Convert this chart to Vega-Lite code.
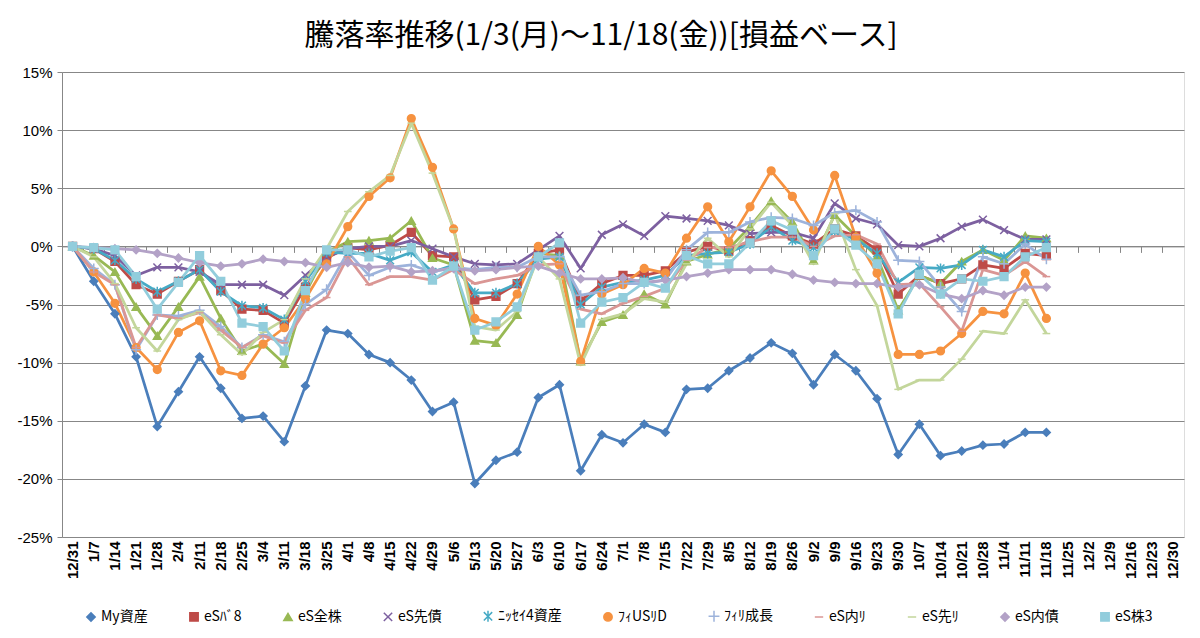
{
  "$schema": "https://vega.github.io/schema/vega-lite/v6.json",
  "width": 1122,
  "height": 465,
  "autosize": "none",
  "padding": {"left": 62, "top": 72, "right": 16, "bottom": 101},
  "background": "white",
  "title": {
    "text": "騰落率推移(1/3(月)～11/18(金))[損益ベース]",
    "font": "Noto Sans CJK JP", "fontSize": 30, "fontWeight": "normal", "color": "#000000",
    "anchor": "middle", "frame": "group", "offset": 14, "dx": -22
  },
  "data": {"values": [
    {"d":"12/31","s":"My資産","v":0},{"d":"1/7","s":"My資産","v":-3.0},{"d":"1/14","s":"My資産","v":-5.8},{"d":"1/21","s":"My資産","v":-9.5},{"d":"1/28","s":"My資産","v":-15.5},{"d":"2/4","s":"My資産","v":-12.5},{"d":"2/11","s":"My資産","v":-9.5},{"d":"2/18","s":"My資産","v":-12.2},{"d":"2/25","s":"My資産","v":-14.8},{"d":"3/4","s":"My資産","v":-14.6},{"d":"3/11","s":"My資産","v":-16.8},{"d":"3/18","s":"My資産","v":-12.0},{"d":"3/25","s":"My資産","v":-7.2},{"d":"4/1","s":"My資産","v":-7.5},{"d":"4/8","s":"My資産","v":-9.3},{"d":"4/15","s":"My資産","v":-10.0},{"d":"4/22","s":"My資産","v":-11.5},{"d":"4/29","s":"My資産","v":-14.2},{"d":"5/6","s":"My資産","v":-13.4},{"d":"5/13","s":"My資産","v":-20.4},{"d":"5/20","s":"My資産","v":-18.4},{"d":"5/27","s":"My資産","v":-17.7},{"d":"6/3","s":"My資産","v":-13.0},{"d":"6/10","s":"My資産","v":-11.9},{"d":"6/17","s":"My資産","v":-19.3},{"d":"6/24","s":"My資産","v":-16.2},{"d":"7/1","s":"My資産","v":-16.9},{"d":"7/8","s":"My資産","v":-15.3},{"d":"7/15","s":"My資産","v":-16.0},{"d":"7/22","s":"My資産","v":-12.3},{"d":"7/29","s":"My資産","v":-12.2},{"d":"8/5","s":"My資産","v":-10.7},{"d":"8/12","s":"My資産","v":-9.6},{"d":"8/19","s":"My資産","v":-8.3},{"d":"8/26","s":"My資産","v":-9.2},{"d":"9/2","s":"My資産","v":-11.9},{"d":"9/9","s":"My資産","v":-9.3},{"d":"9/16","s":"My資産","v":-10.7},{"d":"9/23","s":"My資産","v":-13.1},{"d":"9/30","s":"My資産","v":-17.9},{"d":"10/7","s":"My資産","v":-15.3},{"d":"10/14","s":"My資産","v":-18.0},{"d":"10/21","s":"My資産","v":-17.6},{"d":"10/28","s":"My資産","v":-17.1},{"d":"11/4","s":"My資産","v":-17.0},{"d":"11/11","s":"My資産","v":-16.0},{"d":"11/18","s":"My資産","v":-16.0},
    {"d":"12/31","s":"eSﾊﾞ8","v":0},{"d":"1/7","s":"eSﾊﾞ8","v":-0.2},{"d":"1/14","s":"eSﾊﾞ8","v":-1.3},{"d":"1/21","s":"eSﾊﾞ8","v":-3.3},{"d":"1/28","s":"eSﾊﾞ8","v":-4.1},{"d":"2/4","s":"eSﾊﾞ8","v":-3.0},{"d":"2/11","s":"eSﾊﾞ8","v":-2.0},{"d":"2/18","s":"eSﾊﾞ8","v":-3.8},{"d":"2/25","s":"eSﾊﾞ8","v":-5.4},{"d":"3/4","s":"eSﾊﾞ8","v":-5.5},{"d":"3/11","s":"eSﾊﾞ8","v":-6.6},{"d":"3/18","s":"eSﾊﾞ8","v":-3.5},{"d":"3/25","s":"eSﾊﾞ8","v":-1.0},{"d":"4/1","s":"eSﾊﾞ8","v":-0.1},{"d":"4/8","s":"eSﾊﾞ8","v":-0.3},{"d":"4/15","s":"eSﾊﾞ8","v":0.1},{"d":"4/22","s":"eSﾊﾞ8","v":1.2},{"d":"4/29","s":"eSﾊﾞ8","v":-0.8},{"d":"5/6","s":"eSﾊﾞ8","v":-0.9},{"d":"5/13","s":"eSﾊﾞ8","v":-4.6},{"d":"5/20","s":"eSﾊﾞ8","v":-4.3},{"d":"5/27","s":"eSﾊﾞ8","v":-3.2},{"d":"6/3","s":"eSﾊﾞ8","v":-0.6},{"d":"6/10","s":"eSﾊﾞ8","v":-0.3},{"d":"6/17","s":"eSﾊﾞ8","v":-4.7},{"d":"6/24","s":"eSﾊﾞ8","v":-3.2},{"d":"7/1","s":"eSﾊﾞ8","v":-2.5},{"d":"7/8","s":"eSﾊﾞ8","v":-2.5},{"d":"7/15","s":"eSﾊﾞ8","v":-2.1},{"d":"7/22","s":"eSﾊﾞ8","v":-0.5},{"d":"7/29","s":"eSﾊﾞ8","v":0.0},{"d":"8/5","s":"eSﾊﾞ8","v":-0.4},{"d":"8/12","s":"eSﾊﾞ8","v":0.5},{"d":"8/19","s":"eSﾊﾞ8","v":1.8},{"d":"8/26","s":"eSﾊﾞ8","v":0.9},{"d":"9/2","s":"eSﾊﾞ8","v":0.2},{"d":"9/9","s":"eSﾊﾞ8","v":1.5},{"d":"9/16","s":"eSﾊﾞ8","v":0.9},{"d":"9/23","s":"eSﾊﾞ8","v":-0.3},{"d":"9/30","s":"eSﾊﾞ8","v":-4.1},{"d":"10/7","s":"eSﾊﾞ8","v":-2.5},{"d":"10/14","s":"eSﾊﾞ8","v":-3.2},{"d":"10/21","s":"eSﾊﾞ8","v":-2.8},{"d":"10/28","s":"eSﾊﾞ8","v":-1.6},{"d":"11/4","s":"eSﾊﾞ8","v":-1.9},{"d":"11/11","s":"eSﾊﾞ8","v":-0.6},{"d":"11/18","s":"eSﾊﾞ8","v":-0.8},
    {"d":"12/31","s":"eS全株","v":0},{"d":"1/7","s":"eS全株","v":-0.8},{"d":"1/14","s":"eS全株","v":-2.2},{"d":"1/21","s":"eS全株","v":-5.2},{"d":"1/28","s":"eS全株","v":-7.7},{"d":"2/4","s":"eS全株","v":-5.2},{"d":"2/11","s":"eS全株","v":-2.6},{"d":"2/18","s":"eS全株","v":-6.2},{"d":"2/25","s":"eS全株","v":-9.0},{"d":"3/4","s":"eS全株","v":-8.4},{"d":"3/11","s":"eS全株","v":-10.1},{"d":"3/18","s":"eS全株","v":-4.0},{"d":"3/25","s":"eS全株","v":-0.5},{"d":"4/1","s":"eS全株","v":0.4},{"d":"4/8","s":"eS全株","v":0.5},{"d":"4/15","s":"eS全株","v":0.7},{"d":"4/22","s":"eS全株","v":2.2},{"d":"4/29","s":"eS全株","v":-1.0},{"d":"5/6","s":"eS全株","v":-1.6},{"d":"5/13","s":"eS全株","v":-8.1},{"d":"5/20","s":"eS全株","v":-8.3},{"d":"5/27","s":"eS全株","v":-5.9},{"d":"6/3","s":"eS全株","v":-0.6},{"d":"6/10","s":"eS全株","v":-0.8},{"d":"6/17","s":"eS全株","v":-9.9},{"d":"6/24","s":"eS全株","v":-6.5},{"d":"7/1","s":"eS全株","v":-5.9},{"d":"7/8","s":"eS全株","v":-4.1},{"d":"7/15","s":"eS全株","v":-5.0},{"d":"7/22","s":"eS全株","v":-1.3},{"d":"7/29","s":"eS全株","v":-0.7},{"d":"8/5","s":"eS全株","v":-0.2},{"d":"8/12","s":"eS全株","v":1.7},{"d":"8/19","s":"eS全株","v":3.9},{"d":"8/26","s":"eS全株","v":2.1},{"d":"9/2","s":"eS全株","v":-1.2},{"d":"9/9","s":"eS全株","v":2.7},{"d":"9/16","s":"eS全株","v":0.9},{"d":"9/23","s":"eS全株","v":-0.9},{"d":"9/30","s":"eS全株","v":-5.5},{"d":"10/7","s":"eS全株","v":-2.5},{"d":"10/14","s":"eS全株","v":-3.2},{"d":"10/21","s":"eS全株","v":-1.3},{"d":"10/28","s":"eS全株","v":-0.3},{"d":"11/4","s":"eS全株","v":-1.2},{"d":"11/11","s":"eS全株","v":0.9},{"d":"11/18","s":"eS全株","v":0.7},
    {"d":"12/31","s":"eS先債","v":0},{"d":"1/7","s":"eS先債","v":-0.2},{"d":"1/14","s":"eS先債","v":-0.8},{"d":"1/21","s":"eS先債","v":-2.5},{"d":"1/28","s":"eS先債","v":-1.8},{"d":"2/4","s":"eS先債","v":-1.8},{"d":"2/11","s":"eS先債","v":-2.2},{"d":"2/18","s":"eS先債","v":-3.3},{"d":"2/25","s":"eS先債","v":-3.3},{"d":"3/4","s":"eS先債","v":-3.3},{"d":"3/11","s":"eS先債","v":-4.2},{"d":"3/18","s":"eS先債","v":-2.5},{"d":"3/25","s":"eS先債","v":-0.9},{"d":"4/1","s":"eS先債","v":-0.2},{"d":"4/8","s":"eS先債","v":0.0},{"d":"4/15","s":"eS先債","v":0.0},{"d":"4/22","s":"eS先債","v":0.5},{"d":"4/29","s":"eS先債","v":-0.2},{"d":"5/6","s":"eS先債","v":-0.9},{"d":"5/13","s":"eS先債","v":-1.5},{"d":"5/20","s":"eS先債","v":-1.6},{"d":"5/27","s":"eS先債","v":-1.5},{"d":"6/3","s":"eS先債","v":-0.3},{"d":"6/10","s":"eS先債","v":0.9},{"d":"6/17","s":"eS先債","v":-1.9},{"d":"6/24","s":"eS先債","v":1.0},{"d":"7/1","s":"eS先債","v":1.9},{"d":"7/8","s":"eS先債","v":0.9},{"d":"7/15","s":"eS先債","v":2.6},{"d":"7/22","s":"eS先債","v":2.4},{"d":"7/29","s":"eS先債","v":2.2},{"d":"8/5","s":"eS先債","v":1.8},{"d":"8/12","s":"eS先債","v":1.1},{"d":"8/19","s":"eS先債","v":1.2},{"d":"8/26","s":"eS先債","v":1.2},{"d":"9/2","s":"eS先債","v":0.7},{"d":"9/9","s":"eS先債","v":3.7},{"d":"9/16","s":"eS先債","v":2.4},{"d":"9/23","s":"eS先債","v":1.9},{"d":"9/30","s":"eS先債","v":0.1},{"d":"10/7","s":"eS先債","v":0.0},{"d":"10/14","s":"eS先債","v":0.7},{"d":"10/21","s":"eS先債","v":1.7},{"d":"10/28","s":"eS先債","v":2.3},{"d":"11/4","s":"eS先債","v":1.4},{"d":"11/11","s":"eS先債","v":0.6},{"d":"11/18","s":"eS先債","v":0.6},
    {"d":"12/31","s":"ﾆｯｾｲ4資産","v":0},{"d":"1/7","s":"ﾆｯｾｲ4資産","v":-0.2},{"d":"1/14","s":"ﾆｯｾｲ4資産","v":-1.2},{"d":"1/21","s":"ﾆｯｾｲ4資産","v":-2.8},{"d":"1/28","s":"ﾆｯｾｲ4資産","v":-3.9},{"d":"2/4","s":"ﾆｯｾｲ4資産","v":-3.0},{"d":"2/11","s":"ﾆｯｾｲ4資産","v":-2.0},{"d":"2/18","s":"ﾆｯｾｲ4資産","v":-3.9},{"d":"2/25","s":"ﾆｯｾｲ4資産","v":-5.1},{"d":"3/4","s":"ﾆｯｾｲ4資産","v":-5.3},{"d":"3/11","s":"ﾆｯｾｲ4資産","v":-6.3},{"d":"3/18","s":"ﾆｯｾｲ4資産","v":-3.0},{"d":"3/25","s":"ﾆｯｾｲ4資産","v":-0.5},{"d":"4/1","s":"ﾆｯｾｲ4資産","v":-0.6},{"d":"4/8","s":"ﾆｯｾｲ4資産","v":-0.6},{"d":"4/15","s":"ﾆｯｾｲ4資産","v":-1.2},{"d":"4/22","s":"ﾆｯｾｲ4資産","v":-0.5},{"d":"4/29","s":"ﾆｯｾｲ4資産","v":-2.2},{"d":"5/6","s":"ﾆｯｾｲ4資産","v":-1.6},{"d":"5/13","s":"ﾆｯｾｲ4資産","v":-4.0},{"d":"5/20","s":"ﾆｯｾｲ4資産","v":-4.0},{"d":"5/27","s":"ﾆｯｾｲ4資産","v":-3.2},{"d":"6/3","s":"ﾆｯｾｲ4資産","v":-1.1},{"d":"6/10","s":"ﾆｯｾｲ4資産","v":-0.9},{"d":"6/17","s":"ﾆｯｾｲ4資産","v":-5.0},{"d":"6/24","s":"ﾆｯｾｲ4資産","v":-3.5},{"d":"7/1","s":"ﾆｯｾｲ4資産","v":-3.1},{"d":"7/8","s":"ﾆｯｾｲ4資産","v":-2.9},{"d":"7/15","s":"ﾆｯｾｲ4資産","v":-2.5},{"d":"7/22","s":"ﾆｯｾｲ4資産","v":-0.8},{"d":"7/29","s":"ﾆｯｾｲ4資産","v":-0.6},{"d":"8/5","s":"ﾆｯｾｲ4資産","v":-0.5},{"d":"8/12","s":"ﾆｯｾｲ4資産","v":0.2},{"d":"8/19","s":"ﾆｯｾｲ4資産","v":1.7},{"d":"8/26","s":"ﾆｯｾｲ4資産","v":0.5},{"d":"9/2","s":"ﾆｯｾｲ4資産","v":-0.1},{"d":"9/9","s":"ﾆｯｾｲ4資産","v":1.3},{"d":"9/16","s":"ﾆｯｾｲ4資産","v":0.6},{"d":"9/23","s":"ﾆｯｾｲ4資産","v":-0.6},{"d":"9/30","s":"ﾆｯｾｲ4資産","v":-3.1},{"d":"10/7","s":"ﾆｯｾｲ4資産","v":-1.8},{"d":"10/14","s":"ﾆｯｾｲ4資産","v":-1.9},{"d":"10/21","s":"ﾆｯｾｲ4資産","v":-1.6},{"d":"10/28","s":"ﾆｯｾｲ4資産","v":-0.3},{"d":"11/4","s":"ﾆｯｾｲ4資産","v":-0.9},{"d":"11/11","s":"ﾆｯｾｲ4資産","v":0.5},{"d":"11/18","s":"ﾆｯｾｲ4資産","v":0.4},
    {"d":"12/31","s":"ﾌｨUSﾘD","v":0},{"d":"1/7","s":"ﾌｨUSﾘD","v":-2.2},{"d":"1/14","s":"ﾌｨUSﾘD","v":-4.9},{"d":"1/21","s":"ﾌｨUSﾘD","v":-8.7},{"d":"1/28","s":"ﾌｨUSﾘD","v":-10.6},{"d":"2/4","s":"ﾌｨUSﾘD","v":-7.4},{"d":"2/11","s":"ﾌｨUSﾘD","v":-6.4},{"d":"2/18","s":"ﾌｨUSﾘD","v":-10.7},{"d":"2/25","s":"ﾌｨUSﾘD","v":-11.1},{"d":"3/4","s":"ﾌｨUSﾘD","v":-8.4},{"d":"3/11","s":"ﾌｨUSﾘD","v":-7.0},{"d":"3/18","s":"ﾌｨUSﾘD","v":-4.5},{"d":"3/25","s":"ﾌｨUSﾘD","v":-1.5},{"d":"4/1","s":"ﾌｨUSﾘD","v":1.7},{"d":"4/8","s":"ﾌｨUSﾘD","v":4.3},{"d":"4/15","s":"ﾌｨUSﾘD","v":5.9},{"d":"4/22","s":"ﾌｨUSﾘD","v":11.0},{"d":"4/29","s":"ﾌｨUSﾘD","v":6.8},{"d":"5/6","s":"ﾌｨUSﾘD","v":1.5},{"d":"5/13","s":"ﾌｨUSﾘD","v":-6.2},{"d":"5/20","s":"ﾌｨUSﾘD","v":-6.8},{"d":"5/27","s":"ﾌｨUSﾘD","v":-4.1},{"d":"6/3","s":"ﾌｨUSﾘD","v":0.0},{"d":"6/10","s":"ﾌｨUSﾘD","v":-1.6},{"d":"6/17","s":"ﾌｨUSﾘD","v":-9.9},{"d":"6/24","s":"ﾌｨUSﾘD","v":-4.1},{"d":"7/1","s":"ﾌｨUSﾘD","v":-3.3},{"d":"7/8","s":"ﾌｨUSﾘD","v":-1.9},{"d":"7/15","s":"ﾌｨUSﾘD","v":-2.3},{"d":"7/22","s":"ﾌｨUSﾘD","v":0.7},{"d":"7/29","s":"ﾌｨUSﾘD","v":3.4},{"d":"8/5","s":"ﾌｨUSﾘD","v":0.4},{"d":"8/12","s":"ﾌｨUSﾘD","v":3.4},{"d":"8/19","s":"ﾌｨUSﾘD","v":6.5},{"d":"8/26","s":"ﾌｨUSﾘD","v":4.3},{"d":"9/2","s":"ﾌｨUSﾘD","v":1.4},{"d":"9/9","s":"ﾌｨUSﾘD","v":6.1},{"d":"9/16","s":"ﾌｨUSﾘD","v":0.8},{"d":"9/23","s":"ﾌｨUSﾘD","v":-2.3},{"d":"9/30","s":"ﾌｨUSﾘD","v":-9.3},{"d":"10/7","s":"ﾌｨUSﾘD","v":-9.3},{"d":"10/14","s":"ﾌｨUSﾘD","v":-9.0},{"d":"10/21","s":"ﾌｨUSﾘD","v":-7.5},{"d":"10/28","s":"ﾌｨUSﾘD","v":-5.6},{"d":"11/4","s":"ﾌｨUSﾘD","v":-5.8},{"d":"11/11","s":"ﾌｨUSﾘD","v":-2.3},{"d":"11/18","s":"ﾌｨUSﾘD","v":-6.2},
    {"d":"12/31","s":"ﾌｨﾘ成長","v":0},{"d":"1/7","s":"ﾌｨﾘ成長","v":-1.9},{"d":"1/14","s":"ﾌｨﾘ成長","v":-3.3},{"d":"1/21","s":"ﾌｨﾘ成長","v":-8.9},{"d":"1/28","s":"ﾌｨﾘ成長","v":-5.9},{"d":"2/4","s":"ﾌｨﾘ成長","v":-6.0},{"d":"2/11","s":"ﾌｨﾘ成長","v":-5.5},{"d":"2/18","s":"ﾌｨﾘ成長","v":-6.9},{"d":"2/25","s":"ﾌｨﾘ成長","v":-8.7},{"d":"3/4","s":"ﾌｨﾘ成長","v":-7.6},{"d":"3/11","s":"ﾌｨﾘ成長","v":-8.2},{"d":"3/18","s":"ﾌｨﾘ成長","v":-5.0},{"d":"3/25","s":"ﾌｨﾘ成長","v":-3.7},{"d":"4/1","s":"ﾌｨﾘ成長","v":-0.5},{"d":"4/8","s":"ﾌｨﾘ成長","v":-2.5},{"d":"4/15","s":"ﾌｨﾘ成長","v":-1.8},{"d":"4/22","s":"ﾌｨﾘ成長","v":-1.6},{"d":"4/29","s":"ﾌｨﾘ成長","v":-2.2},{"d":"5/6","s":"ﾌｨﾘ成長","v":-1.8},{"d":"5/13","s":"ﾌｨﾘ成長","v":-2.0},{"d":"5/20","s":"ﾌｨﾘ成長","v":-1.8},{"d":"5/27","s":"ﾌｨﾘ成長","v":-1.8},{"d":"6/3","s":"ﾌｨﾘ成長","v":-0.9},{"d":"6/10","s":"ﾌｨﾘ成長","v":-0.9},{"d":"6/17","s":"ﾌｨﾘ成長","v":-4.2},{"d":"6/24","s":"ﾌｨﾘ成長","v":-3.9},{"d":"7/1","s":"ﾌｨﾘ成長","v":-3.2},{"d":"7/8","s":"ﾌｨﾘ成長","v":-3.2},{"d":"7/15","s":"ﾌｨﾘ成長","v":-2.9},{"d":"7/22","s":"ﾌｨﾘ成長","v":-0.3},{"d":"7/29","s":"ﾌｨﾘ成長","v":1.2},{"d":"8/5","s":"ﾌｨﾘ成長","v":1.2},{"d":"8/12","s":"ﾌｨﾘ成長","v":2.1},{"d":"8/19","s":"ﾌｨﾘ成長","v":2.5},{"d":"8/26","s":"ﾌｨﾘ成長","v":2.4},{"d":"9/2","s":"ﾌｨﾘ成長","v":1.8},{"d":"9/9","s":"ﾌｨﾘ成長","v":2.9},{"d":"9/16","s":"ﾌｨﾘ成長","v":3.1},{"d":"9/23","s":"ﾌｨﾘ成長","v":2.1},{"d":"9/30","s":"ﾌｨﾘ成長","v":-1.2},{"d":"10/7","s":"ﾌｨﾘ成長","v":-1.3},{"d":"10/14","s":"ﾌｨﾘ成長","v":-3.5},{"d":"10/21","s":"ﾌｨﾘ成長","v":-5.6},{"d":"10/28","s":"ﾌｨﾘ成長","v":-0.9},{"d":"11/4","s":"ﾌｨﾘ成長","v":-1.5},{"d":"11/11","s":"ﾌｨﾘ成長","v":0.2},{"d":"11/18","s":"ﾌｨﾘ成長","v":-1.1},
    {"d":"12/31","s":"eS内ﾘ","v":0},{"d":"1/7","s":"eS内ﾘ","v":-2.2},{"d":"1/14","s":"eS内ﾘ","v":-3.3},{"d":"1/21","s":"eS内ﾘ","v":-8.7},{"d":"1/28","s":"eS内ﾘ","v":-5.9},{"d":"2/4","s":"eS内ﾘ","v":-6.2},{"d":"2/11","s":"eS内ﾘ","v":-5.7},{"d":"2/18","s":"eS内ﾘ","v":-7.2},{"d":"2/25","s":"eS内ﾘ","v":-8.7},{"d":"3/4","s":"eS内ﾘ","v":-7.7},{"d":"3/11","s":"eS内ﾘ","v":-8.3},{"d":"3/18","s":"eS内ﾘ","v":-5.5},{"d":"3/25","s":"eS内ﾘ","v":-4.4},{"d":"4/1","s":"eS内ﾘ","v":-0.9},{"d":"4/8","s":"eS内ﾘ","v":-3.3},{"d":"4/15","s":"eS内ﾘ","v":-2.6},{"d":"4/22","s":"eS内ﾘ","v":-2.6},{"d":"4/29","s":"eS内ﾘ","v":-2.9},{"d":"5/6","s":"eS内ﾘ","v":-2.0},{"d":"5/13","s":"eS内ﾘ","v":-3.2},{"d":"5/20","s":"eS内ﾘ","v":-2.8},{"d":"5/27","s":"eS内ﾘ","v":-2.5},{"d":"6/3","s":"eS内ﾘ","v":-1.6},{"d":"6/10","s":"eS内ﾘ","v":-1.5},{"d":"6/17","s":"eS内ﾘ","v":-5.4},{"d":"6/24","s":"eS内ﾘ","v":-5.8},{"d":"7/1","s":"eS内ﾘ","v":-4.9},{"d":"7/8","s":"eS内ﾘ","v":-4.3},{"d":"7/15","s":"eS内ﾘ","v":-3.6},{"d":"7/22","s":"eS内ﾘ","v":-1.2},{"d":"7/29","s":"eS内ﾘ","v":-0.1},{"d":"8/5","s":"eS内ﾘ","v":-0.1},{"d":"8/12","s":"eS内ﾘ","v":0.4},{"d":"8/19","s":"eS内ﾘ","v":0.8},{"d":"8/26","s":"eS内ﾘ","v":0.8},{"d":"9/2","s":"eS内ﾘ","v":0.0},{"d":"9/9","s":"eS内ﾘ","v":0.9},{"d":"9/16","s":"eS内ﾘ","v":1.0},{"d":"9/23","s":"eS内ﾘ","v":0.2},{"d":"9/30","s":"eS内ﾘ","v":-3.3},{"d":"10/7","s":"eS内ﾘ","v":-3.2},{"d":"10/14","s":"eS内ﾘ","v":-5.2},{"d":"10/21","s":"eS内ﾘ","v":-7.3},{"d":"10/28","s":"eS内ﾘ","v":-2.0},{"d":"11/4","s":"eS内ﾘ","v":-2.5},{"d":"11/11","s":"eS内ﾘ","v":-1.3},{"d":"11/18","s":"eS内ﾘ","v":-2.6},
    {"d":"12/31","s":"eS先ﾘ","v":0},{"d":"1/7","s":"eS先ﾘ","v":-0.9},{"d":"1/14","s":"eS先ﾘ","v":-3.2},{"d":"1/21","s":"eS先ﾘ","v":-7.0},{"d":"1/28","s":"eS先ﾘ","v":-9.0},{"d":"2/4","s":"eS先ﾘ","v":-6.3},{"d":"2/11","s":"eS先ﾘ","v":-5.6},{"d":"2/18","s":"eS先ﾘ","v":-7.6},{"d":"2/25","s":"eS先ﾘ","v":-9.3},{"d":"3/4","s":"eS先ﾘ","v":-7.4},{"d":"3/11","s":"eS先ﾘ","v":-6.3},{"d":"3/18","s":"eS先ﾘ","v":-2.8},{"d":"3/25","s":"eS先ﾘ","v":-0.2},{"d":"4/1","s":"eS先ﾘ","v":3.0},{"d":"4/8","s":"eS先ﾘ","v":4.7},{"d":"4/15","s":"eS先ﾘ","v":6.1},{"d":"4/22","s":"eS先ﾘ","v":10.6},{"d":"4/29","s":"eS先ﾘ","v":6.3},{"d":"5/6","s":"eS先ﾘ","v":1.5},{"d":"5/13","s":"eS先ﾘ","v":-6.9},{"d":"5/20","s":"eS先ﾘ","v":-7.2},{"d":"5/27","s":"eS先ﾘ","v":-5.6},{"d":"6/3","s":"eS先ﾘ","v":-0.9},{"d":"6/10","s":"eS先ﾘ","v":-2.8},{"d":"6/17","s":"eS先ﾘ","v":-10.2},{"d":"6/24","s":"eS先ﾘ","v":-6.3},{"d":"7/1","s":"eS先ﾘ","v":-5.8},{"d":"7/8","s":"eS先ﾘ","v":-4.5},{"d":"7/15","s":"eS先ﾘ","v":-4.8},{"d":"7/22","s":"eS先ﾘ","v":-1.5},{"d":"7/29","s":"eS先ﾘ","v":0.7},{"d":"8/5","s":"eS先ﾘ","v":-0.9},{"d":"8/12","s":"eS先ﾘ","v":1.5},{"d":"8/19","s":"eS先ﾘ","v":3.8},{"d":"8/26","s":"eS先ﾘ","v":1.8},{"d":"9/2","s":"eS先ﾘ","v":-1.5},{"d":"9/9","s":"eS先ﾘ","v":2.8},{"d":"9/16","s":"eS先ﾘ","v":-2.0},{"d":"9/23","s":"eS先ﾘ","v":-5.1},{"d":"9/30","s":"eS先ﾘ","v":-12.3},{"d":"10/7","s":"eS先ﾘ","v":-11.5},{"d":"10/14","s":"eS先ﾘ","v":-11.5},{"d":"10/21","s":"eS先ﾘ","v":-9.7},{"d":"10/28","s":"eS先ﾘ","v":-7.3},{"d":"11/4","s":"eS先ﾘ","v":-7.5},{"d":"11/11","s":"eS先ﾘ","v":-4.6},{"d":"11/18","s":"eS先ﾘ","v":-7.5},
    {"d":"12/31","s":"eS内債","v":0},{"d":"1/7","s":"eS内債","v":-0.1},{"d":"1/14","s":"eS内債","v":-0.2},{"d":"1/21","s":"eS内債","v":-0.3},{"d":"1/28","s":"eS内債","v":-0.6},{"d":"2/4","s":"eS内債","v":-1.0},{"d":"2/11","s":"eS内債","v":-1.4},{"d":"2/18","s":"eS内債","v":-1.7},{"d":"2/25","s":"eS内債","v":-1.5},{"d":"3/4","s":"eS内債","v":-1.1},{"d":"3/11","s":"eS内債","v":-1.3},{"d":"3/18","s":"eS内債","v":-1.4},{"d":"3/25","s":"eS内債","v":-1.8},{"d":"4/1","s":"eS内債","v":-1.4},{"d":"4/8","s":"eS内債","v":-1.8},{"d":"4/15","s":"eS内債","v":-1.7},{"d":"4/22","s":"eS内債","v":-2.2},{"d":"4/29","s":"eS内債","v":-2.1},{"d":"5/6","s":"eS内債","v":-1.9},{"d":"5/13","s":"eS内債","v":-2.1},{"d":"5/20","s":"eS内債","v":-2.0},{"d":"5/27","s":"eS内債","v":-1.8},{"d":"6/3","s":"eS内債","v":-1.7},{"d":"6/10","s":"eS内債","v":-2.3},{"d":"6/17","s":"eS内債","v":-2.8},{"d":"6/24","s":"eS内債","v":-2.8},{"d":"7/1","s":"eS内債","v":-2.7},{"d":"7/8","s":"eS内債","v":-3.1},{"d":"7/15","s":"eS内債","v":-2.9},{"d":"7/22","s":"eS内債","v":-2.6},{"d":"7/29","s":"eS内債","v":-2.3},{"d":"8/5","s":"eS内債","v":-2.0},{"d":"8/12","s":"eS内債","v":-2.0},{"d":"8/19","s":"eS内債","v":-2.0},{"d":"8/26","s":"eS内債","v":-2.4},{"d":"9/2","s":"eS内債","v":-2.9},{"d":"9/9","s":"eS内債","v":-3.1},{"d":"9/16","s":"eS内債","v":-3.2},{"d":"9/23","s":"eS内債","v":-3.2},{"d":"9/30","s":"eS内債","v":-3.5},{"d":"10/7","s":"eS内債","v":-3.3},{"d":"10/14","s":"eS内債","v":-4.1},{"d":"10/21","s":"eS内債","v":-4.5},{"d":"10/28","s":"eS内債","v":-3.8},{"d":"11/4","s":"eS内債","v":-4.2},{"d":"11/11","s":"eS内債","v":-3.5},{"d":"11/18","s":"eS内債","v":-3.5},
    {"d":"12/31","s":"eS株3","v":0},{"d":"1/7","s":"eS株3","v":-0.1},{"d":"1/14","s":"eS株3","v":-0.3},{"d":"1/21","s":"eS株3","v":-2.6},{"d":"1/28","s":"eS株3","v":-5.4},{"d":"2/4","s":"eS株3","v":-3.1},{"d":"2/11","s":"eS株3","v":-0.8},{"d":"2/18","s":"eS株3","v":-3.0},{"d":"2/25","s":"eS株3","v":-6.6},{"d":"3/4","s":"eS株3","v":-6.9},{"d":"3/11","s":"eS株3","v":-9.0},{"d":"3/18","s":"eS株3","v":-3.8},{"d":"3/25","s":"eS株3","v":-0.3},{"d":"4/1","s":"eS株3","v":-0.3},{"d":"4/8","s":"eS株3","v":-0.9},{"d":"4/15","s":"eS株3","v":-0.4},{"d":"4/22","s":"eS株3","v":-0.1},{"d":"4/29","s":"eS株3","v":-2.9},{"d":"5/6","s":"eS株3","v":-1.7},{"d":"5/13","s":"eS株3","v":-7.2},{"d":"5/20","s":"eS株3","v":-6.5},{"d":"5/27","s":"eS株3","v":-5.2},{"d":"6/3","s":"eS株3","v":-0.9},{"d":"6/10","s":"eS株3","v":0.3},{"d":"6/17","s":"eS株3","v":-6.6},{"d":"6/24","s":"eS株3","v":-4.8},{"d":"7/1","s":"eS株3","v":-4.4},{"d":"7/8","s":"eS株3","v":-3.1},{"d":"7/15","s":"eS株3","v":-3.6},{"d":"7/22","s":"eS株3","v":-0.8},{"d":"7/29","s":"eS株3","v":-1.5},{"d":"8/5","s":"eS株3","v":-1.5},{"d":"8/12","s":"eS株3","v":0.3},{"d":"8/19","s":"eS株3","v":2.2},{"d":"8/26","s":"eS株3","v":1.4},{"d":"9/2","s":"eS株3","v":-0.8},{"d":"9/9","s":"eS株3","v":1.5},{"d":"9/16","s":"eS株3","v":0.1},{"d":"9/23","s":"eS株3","v":-1.5},{"d":"9/30","s":"eS株3","v":-5.8},{"d":"10/7","s":"eS株3","v":-2.4},{"d":"10/14","s":"eS株3","v":-4.1},{"d":"10/21","s":"eS株3","v":-2.8},{"d":"10/28","s":"eS株3","v":-3.0},{"d":"11/4","s":"eS株3","v":-2.6},{"d":"11/11","s":"eS株3","v":-0.9},{"d":"11/18","s":"eS株3","v":-0.1}
  ]},
  "resolve": {"axis": {"x": "independent"}},
  "layer": [
    {
      "mark": {"type": "line", "strokeWidth": 2.75, "strokeJoin": "round"},
      "encoding": {
        "x": {
          "field": "d", "type": "ordinal", "bandPosition": 0.5,
          "scale": {"type": "band", "paddingInner": 0, "paddingOuter": 0,
            "domain": ["12/31","1/7","1/14","1/21","1/28","2/4","2/11","2/18","2/25","3/4","3/11","3/18","3/25","4/1","4/8","4/15","4/22","4/29","5/6","5/13","5/20","5/27","6/3","6/10","6/17","6/24","7/1","7/8","7/15","7/22","7/29","8/5","8/12","8/19","8/26","9/2","9/9","9/16","9/23","9/30","10/7","10/14","10/21","10/28","11/4","11/11","11/18","11/25","12/2","12/9","12/16","12/23","12/30"]},
          "axis": {"title": null, "orient": "bottom", "labelAngle": -90, "ticks": false, "domain": false, "grid": false,
            "labelFont": "Liberation Sans", "labelFontSize": 15, "labelFontWeight": "bold", "labelColor": "#000000", "labelPadding": 4, "bandPosition": 0.5}
        },
        "y": {
          "field": "v", "type": "quantitative",
          "scale": {"domain": [-25, 15], "nice": false, "zero": false},
          "axis": {"title": null, "values": [-25, -20, -15, -10, -5, 0, 5, 10, 15], "labelExpr": "datum.value + '%'",
            "grid": true, "gridColor": "#878787", "gridWidth": 1, "domainColor": "#878787", "tickColor": "#878787", "tickSize": 5,
            "labelFont": "Liberation Sans", "labelFontSize": 15, "labelColor": "#000000", "labelPadding": 5}
        },
        "color": {"field": "s", "type": "nominal",
          "scale": {"domain": ["My資産","eSﾊﾞ8","eS全株","eS先債","ﾆｯｾｲ4資産","ﾌｨUSﾘD","ﾌｨﾘ成長","eS内ﾘ","eS先ﾘ","eS内債","eS株3"],
            "range": ["#4A7EBB","#BE4B48","#98B954","#7D60A0","#46AAC5","#F69240","#9DB3DB","#DA9694","#C3D69B","#B3A2C7","#92CDDC"]},
          "legend": {"title": null, "orient": "none", "legendX": 22, "legendY": 537, "direction": "horizontal", "columns": 11,
            "columnPadding": 38, "symbolSize": 70, "symbolStrokeWidth": 1.5,
            "labelFont": "Noto Sans CJK JP", "labelFontSize": 14, "labelColor": "#000000", "labelOffset": 3}},
        "detail": {"field": "s"}
      }
    },
    {
      "mark": {"type": "point", "filled": true, "size": 60, "strokeWidth": 1.5, "opacity": 1},
      "encoding": {
        "x": {
          "field": "d", "type": "ordinal", "bandPosition": 0.5,
          "axis": {"title": null, "orient": "bottom", "offset": -290.6, "labels": false, "grid": false, "ticks": true, "tickSize": 6,
            "tickColor": "#878787", "domain": true, "domainColor": "#878787", "bandPosition": 0}
        },
        "y": {"field": "v", "type": "quantitative"},
        "color": {"field": "s", "type": "nominal",
          "legend": {"title": null, "orient": "none", "legendX": 22, "legendY": 537, "direction": "horizontal", "columns": 11,
            "columnPadding": 38, "symbolSize": 70, "symbolStrokeWidth": 1.5,
            "labelFont": "Noto Sans CJK JP", "labelFontSize": 14, "labelColor": "#000000", "labelOffset": 3,
            "encode": {"symbols": {"update": {"stroke": {"scale": "color", "field": "value"}}}}}},
        "stroke": {"field": "s", "type": "nominal", "legend": null,
          "scale": {"domain": ["My資産","eSﾊﾞ8","eS全株","eS先債","ﾆｯｾｲ4資産","ﾌｨUSﾘD","ﾌｨﾘ成長","eS内ﾘ","eS先ﾘ","eS内債","eS株3"],
            "range": ["#4A7EBB","#BE4B48","#98B954","#7D60A0","#46AAC5","#F69240","#9DB3DB","#DA9694","#C3D69B","#B3A2C7","#92CDDC"]}},
        "shape": {"field": "s", "type": "nominal",
          "scale": {"domain": ["My資産","eSﾊﾞ8","eS全株","eS先債","ﾆｯｾｲ4資産","ﾌｨUSﾘD","ﾌｨﾘ成長","eS内ﾘ","eS先ﾘ","eS内債","eS株3"],
            "range": ["diamond","square","triangle-up","M-1,-1L1,1M-1,1L1,-1","M-1,-1L1,1M-1,1L1,-1M0,-1.3L0,1.3","circle","M-1.3,0L1.3,0M0,-1.3L0,1.3","M-1,0L1,0","M-1,0L1,0","diamond","square"]}}
      }
    }
  ]
}
